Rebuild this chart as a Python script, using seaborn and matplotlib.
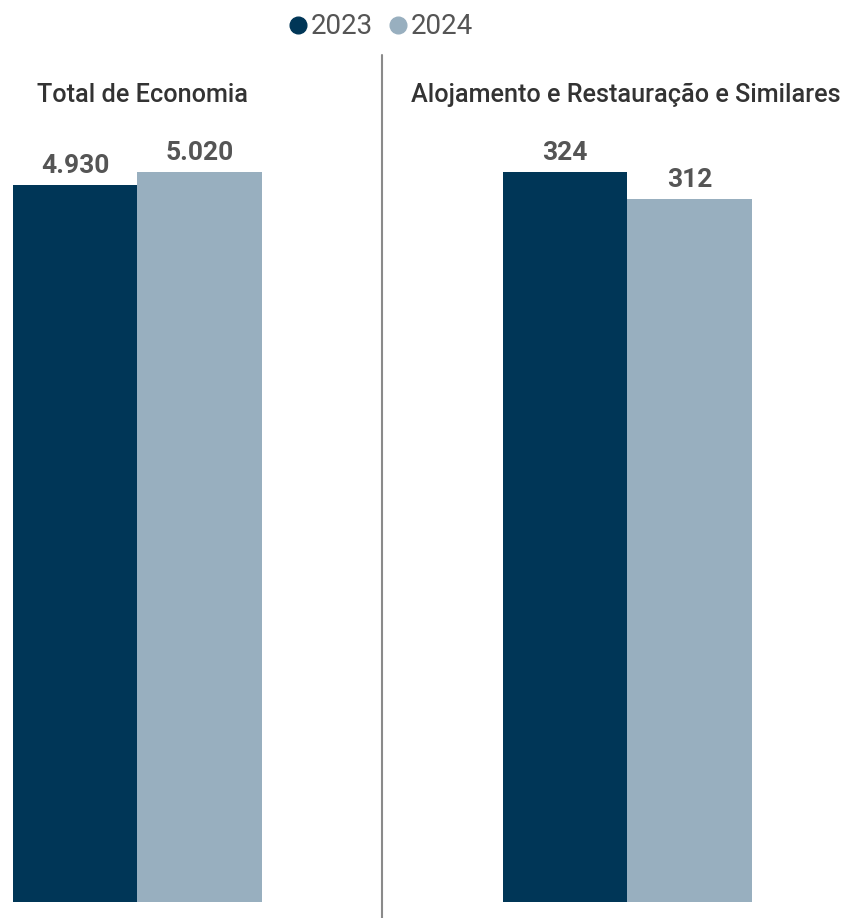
import matplotlib
matplotlib.use("Agg")
import matplotlib.pyplot as plt
from matplotlib.lines import Line2D
import pandas as pd
import seaborn as sns

# data
years = ["2023", "2024"]
panels = ["Total de Economia", "Alojamento e Restauração e Similares"]
total_economia = [4930, 5020]
alojamento = [324, 312]
colors = ["#003657", "#98AFBF"]
text_gray = "#555555"

sns.set_theme(style="white")
plt.rcParams["font.family"] = ["Roboto", "DejaVu Sans"]

W, H = 854, 918
fig = plt.figure(figsize=(W / 100, H / 100), dpi=100)


def px_axes(x0, x1, ytop, ybot):
    return fig.add_axes([x0 / W, (H - ybot) / H, (x1 - x0) / W, (ybot - ytop) / H])


series = [total_economia, alojamento]
lefts = [13, 503]
title_x = [37, 411]
for i, vals in enumerate(series):
    ax = px_axes(lefts[i], lefts[i] + 249, 100, 902)
    df = pd.DataFrame({"year": years, "value": vals})
    sns.barplot(data=df, x="year", y="value", hue="year", palette=colors,
                width=1.0, ax=ax, legend=False, saturation=1, linewidth=0)
    ax.set_xlim(-0.5, 1.5)
    ax.set_ylim(0, max(vals) * 802 / 730)
    ax.axis("off")
    for c in ax.containers:
        ax.bar_label(c, labels=[f"{v:,.0f}".replace(",", ".") for v in c.datavalues],
                     padding=5, fontsize=19, fontweight="bold", color=text_gray)
    fig.text(title_x[i] / W, 1 - 95 / H, panels[i], fontsize=18.2, fontweight="medium",
             color="#333333", ha="left", va="center")

# divider
fig.add_artist(Line2D([382 / W, 382 / W], [0, 1 - 55 / H], color="#8a8a8a", lw=1.5))

handles = [Line2D([], [], marker="o", ls="", markersize=12, color=c) for c in colors]
fig.legend(handles, years, loc="center", bbox_to_anchor=(380 / W, 1 - 27 / H), ncol=2,
           frameon=False, fontsize=20, handletextpad=0.05, columnspacing=0.5,
           labelcolor=text_gray, handlelength=0.8)

fig.savefig("out.png", dpi=100)
